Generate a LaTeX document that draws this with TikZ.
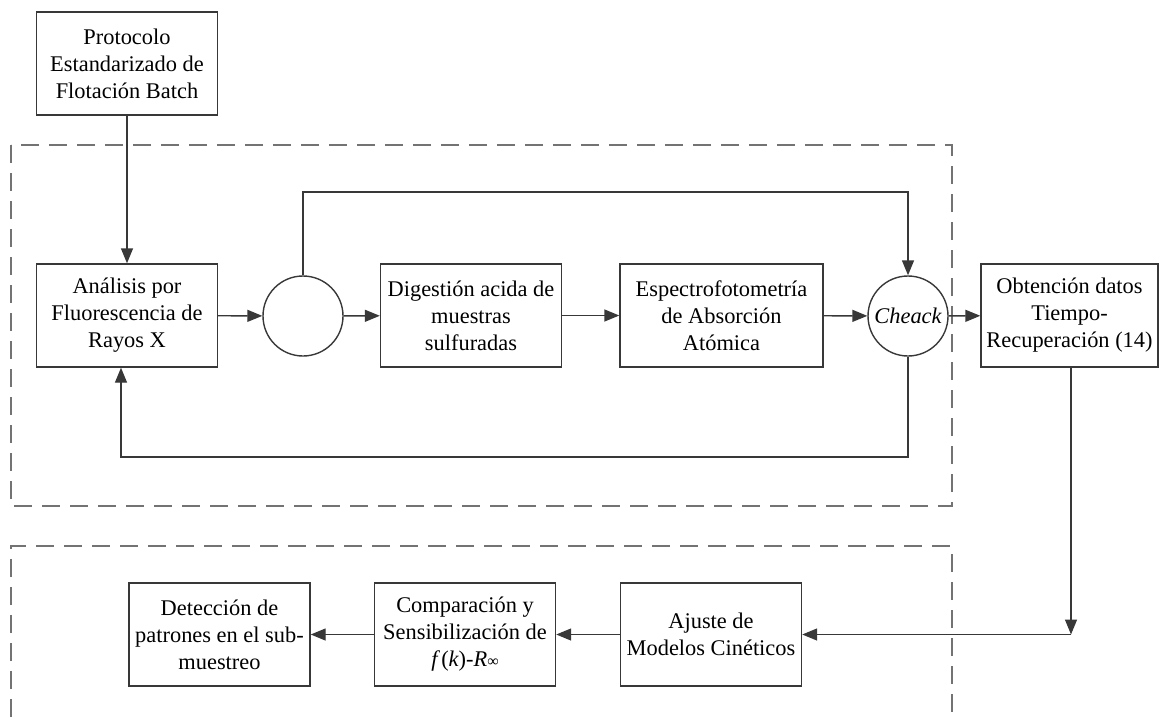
\documentclass[tikz,border=0pt]{standalone}
\usepackage{fontspec}
\setmainfont{Liberation Serif}
\newfontfamily\romana{Liberation Serif}
\usepackage{xcolor}
\usetikzlibrary{arrows.meta}
\definecolor{boxgray}{gray}{0.22}
\definecolor{dashgray}{gray}{0.45}
\tikzset{
  bloque/.style={draw=boxgray, line width=0.7pt, minimum width=90.5pt, minimum height=51.5pt,
    inner sep=0pt, align=center, font=\romana\fontsize{11.2}{13.5}\selectfont},
  nudo/.style={draw=boxgray, line width=0.7pt, circle, minimum size=40pt, inner sep=0pt,
    font=\romana\fontsize{11.2}{13.5}\selectfont},
  flecha/.style={draw=boxgray, line width=0.7pt, -{Triangle[length=7.5pt,width=6pt]}},
  zona/.style={draw=dashgray, line width=0.9pt, dash pattern=on 9pt off 5pt}
}

\begin{document}
\begin{tikzpicture}[x=0.5pt,y=-0.5pt]
\useasboundingbox (0,0) rectangle (1159,717);

    % dashed zones
    \draw[zona] (11,145) rectangle (952,506);
    \draw[zona] (11,717) -- (11,546) -- (952,546) -- (952,717);

    \node[bloque] (proto) at (127,63.5) {Protocolo\\Estandarizado de\\Flotación Batch};

    \node[bloque] (analisis) at (127,315.5) {Análisis por\\Fluorescencia de\\Rayos X};
    \node[nudo] (c1) at (303,316) {};
    \node[bloque] (digest) at (471,315.5) {Digestión acida de\\muestras\\sulfuradas};
    \node[bloque, minimum width=101.5pt] (espectro) at (721.5,315.5) {Espectrofotometría\\de Absorción\\Atómica};
    \node[nudo] (check) at (908,316) {\itshape Cheack};
    \node[bloque, minimum width=88.5pt] (obtencion) at (1069.5,315.5) {Obtención datos\\Tiempo-\\Recuperación (14)};

    \node[bloque] (ajuste) at (711,634.5) {Ajuste de\\Modelos Cinéticos};
    \node[bloque] (compar) at (465,634.5) {Comparación y\\Sensibilización de\\{\itshape f}\,({\itshape k})-{\itshape R}{\footnotesize ∞}};
    \node[bloque] (detecc) at (219.5,634.5) {Detección de\\patrones en el sub-\\muestreo};

    \coordinate (ff) at (303,192);
    \coordinate (fb) at (121,457);
    \coordinate (esq) at (1071,634.5);

    % draw the arrows
    \draw[flecha] (proto) -- (analisis);
    \draw[flecha] (analisis) -- (c1);
    \draw[flecha] (c1) -- (digest);
    \draw[flecha] (digest) -- (espectro);
    \draw[flecha] (espectro) -- (check);
    \draw[flecha] (check) -- (obtencion);
    \draw[flecha] (c1.north) -- (ff) -| (check.north);
    \draw[flecha] (check.south) |- (fb) -- (fb |- analisis.south);

    \draw[flecha] (obtencion.south -| esq) -- (esq);
    \draw[flecha] (esq) -- (ajuste);
    \draw[flecha] (ajuste) -- (compar);
    \draw[flecha] (compar) -- (detecc);

\end{tikzpicture}
\end{document}
